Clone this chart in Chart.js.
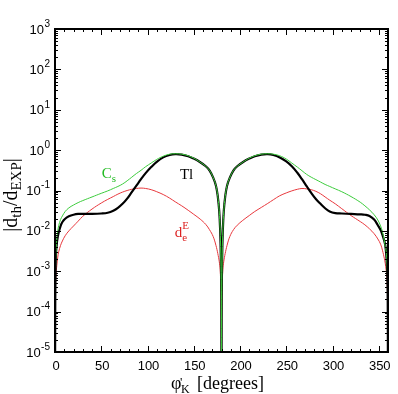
<!DOCTYPE html>
<html>
<head>
<meta charset="utf-8">
<script src="https://cdn.jsdelivr.net/npm/chart.js@4.4.0/dist/chart.umd.min.js"></script>
<style>
  body { margin: 0; background: #fff; }
  #wrap { width: 398px; height: 394px; }
</style>
</head>
<body>
<div id="wrap"><canvas id="myChart"></canvas></div>
<script>
// phi'_K in degrees (denser near 0, 180 and 360 where the curves dive)
var angles = [
  0, 0.2, 0.5, 1, 2, 3, 4, 6, 8, 11, 15, 20, 25, 30, 40,
  50, 57, 63, 68, 73, 78, 83, 88, 93, 98, 104, 110, 117, 124, 130,
  137, 144, 150, 157, 163, 167, 171, 174, 176, 177.5, 178.5, 179.2, 179.6, 179.85, 180,
  180.15, 180.4, 180.8, 181.5, 182.5, 184, 186, 189, 193, 197, 203, 210, 216, 223, 230,
  236, 243, 250, 256, 262, 267, 272, 277, 282, 287, 292, 297, 303, 310, 320,
  330, 335, 340, 345, 349, 352, 354, 356, 357, 358, 359, 359.5, 359.8, 360
];

// log10 |d_th/d_EXP|, one entry per angle
var tlLog = [
  -7, -4.2, -3.2, -2.6, -2.3, -2.15, -2.04, -1.88, -1.78, -1.7, -1.64, -1.6, -1.58, -1.58, -1.58,
  -1.57, -1.55, -1.5, -1.43, -1.33, -1.2, -1.04, -0.88, -0.72, -0.57, -0.42, -0.29, -0.18, -0.12, -0.1,
  -0.11, -0.15, -0.21, -0.3, -0.4, -0.5, -0.68, -0.88, -1.15, -1.5, -1.95, -2.55, -3.2, -4.2, -7,
  -4.2, -3.2, -2.55, -1.95, -1.5, -1.15, -0.88, -0.68, -0.5, -0.4, -0.3, -0.21, -0.15, -0.11, -0.1,
  -0.12, -0.18, -0.28, -0.4, -0.56, -0.72, -0.89, -1.06, -1.21, -1.33, -1.44, -1.52, -1.56, -1.57, -1.58,
  -1.59, -1.6, -1.63, -1.72, -1.86, -1.98, -2.1, -2.25, -2.35, -2.55, -2.9, -3.3, -4.2, -7
];
var csLog = [
  -7, -4.0, -3.0, -2.55, -2.2, -2.0, -1.87, -1.72, -1.63, -1.52, -1.43, -1.36, -1.3, -1.25, -1.16,
  -1.07, -1.01, -0.95, -0.9, -0.84, -0.76, -0.67, -0.58, -0.5, -0.41, -0.32, -0.23, -0.15, -0.1, -0.09,
  -0.1, -0.14, -0.2, -0.3, -0.4, -0.5, -0.68, -0.88, -1.15, -1.5, -1.95, -2.55, -3.2, -4.2, -7,
  -4.2, -3.2, -2.55, -1.95, -1.5, -1.15, -0.88, -0.68, -0.5, -0.4, -0.3, -0.2, -0.14, -0.1, -0.09,
  -0.1, -0.14, -0.22, -0.32, -0.42, -0.51, -0.6, -0.67, -0.73, -0.79, -0.85, -0.9, -0.96, -1.03, -1.15,
  -1.29, -1.38, -1.48, -1.6, -1.73, -1.88, -2.02, -2.25, -2.38, -2.5, -2.8, -3.2, -4.0, -7
];
var deLog = [
  -7, -4.0, -3.4, -3.1, -2.85, -2.65, -2.52, -2.36, -2.25, -2.12, -2.0, -1.88, -1.76, -1.64, -1.46,
  -1.31, -1.22, -1.15, -1.09, -1.04, -1.0, -0.97, -0.95, -0.94, -0.95, -0.98, -1.03, -1.1, -1.19, -1.28,
  -1.38, -1.49, -1.59, -1.71, -1.84, -1.97, -2.14, -2.36, -2.56, -2.75, -2.95, -3.3, -3.7, -4.3, -7,
  -4.3, -3.7, -3.3, -2.95, -2.75, -2.56, -2.36, -2.14, -1.97, -1.86, -1.74, -1.62, -1.52, -1.42, -1.32,
  -1.23, -1.13, -1.06, -1.01, -0.97, -0.95, -0.96, -0.98, -1.02, -1.08, -1.16, -1.24, -1.33, -1.45, -1.62,
  -1.77, -1.85, -1.95, -2.07, -2.2, -2.33, -2.48, -2.68, -2.8, -2.97, -3.2, -3.6, -4.1, -7
];

var xTickValues = [0, 50, 100, 150, 200, 250, 300, 350];
var xTickLabels = ['0', '50', '100', '150', '200', '250', '300', '350'];
var yExponents = [-5, -4, -3, -2, -1, 0, 1, 2, 3];
var yExpLabels = ['-5', '-4', '-3', '-2', '-1', '0', '1', '2', '3'];

function toPoints(logs) {
  var pts = [];
  for (var i = 0; i < angles.length; i++) {
    pts.push({x: angles[i], y: Math.pow(10, logs[i])});
  }
  return pts;
}

var SANS = '"Liberation Sans", Arial, sans-serif';
var SERIF = '"Liberation Serif", "Times New Roman", serif';

// draws the frame, inward ticks, tick labels, titles and curve labels
var decorations = {
  id: 'decorations',
  afterDraw: function(chart) {
    var ctx = chart.ctx, a = chart.chartArea;
    var xs = chart.scales.x, ys = chart.scales.y;
    ctx.save();
    ctx.strokeStyle = '#000';
    ctx.lineWidth = 1;
    ctx.beginPath();
    for (var v = 0; v <= 360; v += 10) {
      var px = Math.round(xs.getPixelForValue(v)) + 0.5;
      var len = v % 50 === 0 ? 6 : 3;
      ctx.moveTo(px, a.bottom); ctx.lineTo(px, a.bottom - len);
      ctx.moveTo(px, a.top); ctx.lineTo(px, a.top + len);
    }
    for (var e = -5; e <= 3; e++) {
      for (var k = 1; k <= 9; k++) {
        if (e === 3 && k > 1) break;
        var py = Math.round(ys.getPixelForValue(k * Math.pow(10, e))) + 0.5;
        var l2 = k === 1 ? 6 : 3;
        ctx.moveTo(a.left, py); ctx.lineTo(a.left + l2, py);
        ctx.moveTo(a.right, py); ctx.lineTo(a.right - l2, py);
      }
    }
    ctx.stroke();
    ctx.lineWidth = 2;
    ctx.strokeRect(a.left, a.top, a.right - a.left, a.bottom - a.top);

    ctx.fillStyle = '#000';
    // x tick labels
    ctx.font = '13px ' + SANS;
    ctx.textAlign = 'center';
    ctx.textBaseline = 'middle';
    xTickValues.forEach(function(v, i) {
      ctx.fillText(xTickLabels[i], xs.getPixelForValue(v) + 1, a.bottom + 14);
    });
    // y tick labels 10^n
    yExponents.forEach(function(e, i) {
      var py = ys.getPixelForValue(Math.pow(10, e));
      ctx.textAlign = 'right';
      ctx.font = '10px ' + SANS;
      var w = ctx.measureText(yExpLabels[i]).width;
      ctx.fillText(yExpLabels[i], a.left - 5, py - 5);
      ctx.font = '13px ' + SANS;
      ctx.fillText('10', a.left - 5.5 - w, py + 1);
    });

    // x title
    ctx.textAlign = 'left';
    ctx.textBaseline = 'alphabetic';
    ctx.font = '18px ' + SERIF;
    ctx.fillText('\u03c6', 171, 389);
    ctx.font = '13px ' + SERIF;
    ctx.fillText('\'', 180, 386);
    ctx.font = '12px ' + SERIF;
    ctx.fillText('K', 181, 393);
    ctx.font = '18px ' + SERIF;
    ctx.fillText('[degrees]', 197, 389);

    // y title, rotated
    var parts = [['|d', 20, 0], ['th', 15, 4], ['/d', 20, 0], ['EXP', 15, 4], ['|', 20, 0]];
    var total = 0;
    parts.forEach(function(p) { ctx.font = p[1] + 'px ' + SERIF; p.push(ctx.measureText(p[0]).width); total += p[3]; });
    ctx.save();
    ctx.translate(17, 195);
    ctx.rotate(-Math.PI / 2);
    var cx = -total / 2;
    parts.forEach(function(p) {
      ctx.font = p[1] + 'px ' + SERIF;
      ctx.fillText(p[0], cx, p[2]);
      cx += p[3];
    });
    ctx.restore();

    // curve labels
    function label(x, y, main, sub, sup, color) {
      var px = xs.getPixelForValue(x), py = ys.getPixelForValue(y);
      ctx.fillStyle = color;
      ctx.font = '15px ' + SERIF;
      ctx.fillText(main, px, py);
      var w = ctx.measureText(main).width;
      ctx.font = '11px ' + SERIF;
      if (sub) ctx.fillText(sub, px + w, py + 4);
      if (sup) ctx.fillText(sup, px + w, py - 8);
    }
    label(50.5, 0.2, 'C', 's', null, '#22bb22');
    label(135, 0.197, 'Tl', null, null, '#000');
    label(129.5, 0.0072, 'd', 'e', 'E', '#dd2222');
    ctx.restore();
  }
};

var ctx = document.getElementById('myChart');
var myChart = new Chart(ctx, {
  type: 'line',
  data: {
    datasets: [{
      label: 'Cs',
      data: toPoints(csLog),
      borderColor: '#3ccc3c',
      borderWidth: 1,
      pointRadius: 0,
      tension: 0.4
    }, {
      label: 'Tl',
      data: toPoints(tlLog),
      borderColor: '#000000',
      borderWidth: 2.2,
      pointRadius: 0,
      tension: 0.4
    }, {
      label: 'deE',
      data: toPoints(deLog),
      borderColor: '#e8383d',
      borderWidth: 1,
      pointRadius: 0,
      tension: 0.4
    }]
  },
  options: {
    responsive: true,
    maintainAspectRatio: false,
    devicePixelRatio: 1,
    animation: false,
    events: [],
    layout: { padding: { left: 55, right: 10, top: 29, bottom: 42 } },
    scales: {
      x: { type: 'linear', min: 0, max: 360, display: false },
      y: { type: 'logarithmic', min: 1e-5, max: 1e3, display: false }
    },
    plugins: {
      legend: { display: false },
      tooltip: { enabled: false }
    }
  },
  plugins: [decorations]
});
</script>
</body>
</html>
